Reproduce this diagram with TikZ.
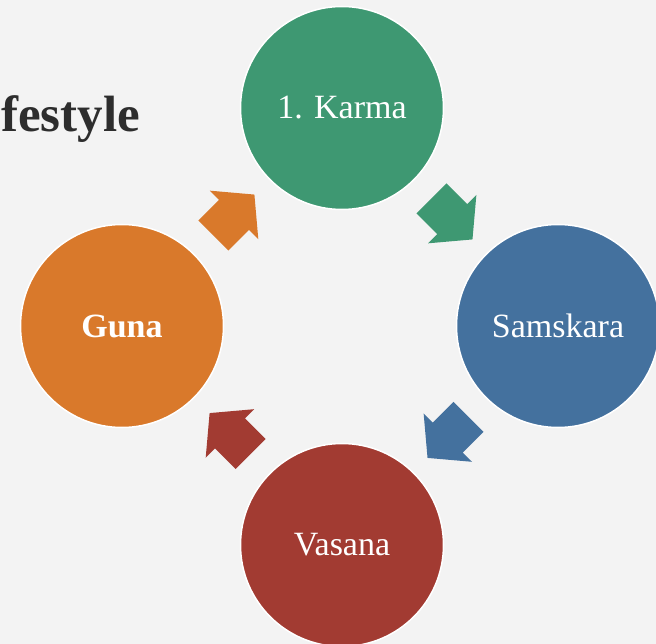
\documentclass[tikz,border=0pt]{standalone}
\usepackage{fontspec}
\setmainfont{Liberation Serif}
\usepackage{tikz}
\usetikzlibrary{shapes,arrows}
\usetikzlibrary{positioning}
\usetikzlibrary{calc}
\definecolor{bggray}{RGB}{243,243,243}
\definecolor{kgreen}{RGB}{62,152,114}
\definecolor{sblue}{RGB}{68,113,158}
\definecolor{vred}{RGB}{162,59,50}
\definecolor{gorange}{RGB}{217,121,43}
\definecolor{titlegray}{RGB}{45,45,45}
\begin{document}
\begin{tikzpicture}[x=1pt,y=1pt,on grid,
  cyc/.style={circle,draw=white,line width=1.5pt,minimum size=203pt,inner sep=0pt,text=white,font=\fontsize{34}{40}\selectfont},
  flow/.style={single arrow,draw=none,inner xsep=0pt,inner ysep=21pt,minimum height=58pt,single arrow head extend=13pt,single arrow tip angle=100}]
\useasboundingbox (0,0) rectangle (656,-644);
\clip (0,0) rectangle (656,-644);
\fill[bggray] (0,0) rectangle (656,-644);
\node[anchor=base west,inner sep=0pt,text=titlegray,font=\fontsize{51}{60}\selectfont\bfseries] (title) at (1,-132) {festyle};
\node[cyc,fill=kgreen] (karma) at (342,-108) {1. Karma};
\node[cyc,fill=sblue,below right=218pt and 216pt of karma] (samskara) {Samskara};
\node[cyc,fill=vred,below left=219pt and 216pt of samskara] (vasana) {Vasana};
\node[cyc,fill=gorange,above left=219pt and 220pt of vasana] (guna) {\textbf{Guna}};
%arrows between the circles
\node[flow,fill=kgreen,rotate=-45] (a1) at ($(karma)!0.48!(samskara)$) {};
\node[flow,fill=sblue,rotate=-135] (a2) at ($(samskara)!0.48!(vasana)$) {};
\node[flow,fill=vred,rotate=135] (a3) at ($(vasana)!0.48!(guna)$) {};
\node[flow,fill=gorange,rotate=45] (a4) at ($(guna)!0.48!(karma)$) {};
\end{tikzpicture}
\end{document}
